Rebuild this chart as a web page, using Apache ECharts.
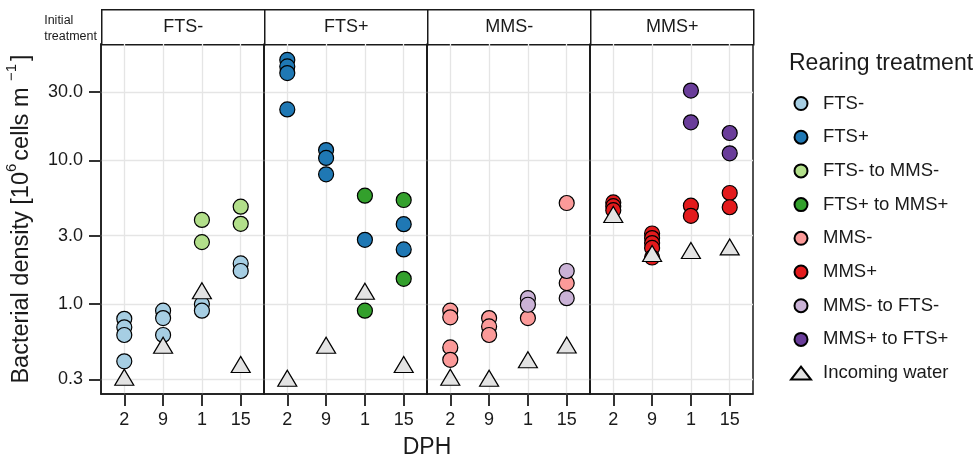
<!DOCTYPE html>
<html style="height: 100%">
   <head>
       <meta charset="utf-8">
   </head>
   <body style="height: 100%; margin: 0; background: #fff">
       <div id="container" style="width: 979px; height: 458px"></div>
       <script type="text/javascript" src="https://cdn.jsdelivr.net/npm/echarts@6/dist/echarts.min.js"></script>
       <script type="text/javascript">
            // facets and axis labels
            var panelNames = ['FTS-', 'FTS+', 'MMS-', 'MMS+'];
            var dphTicks = ['2', '9', '1', '15'];
            var yTicks = [0.3, 1, 3, 10, 30];

            // rows are [panel index, DPH index, density]
            var ftsMinus = [
                [0, 0, 0.79], [0, 0, 0.69], [0, 0, 0.61], [0, 0, 0.40],
                [0, 1, 0.90], [0, 1, 0.80], [0, 1, 0.61],
                [0, 2, 1.00], [0, 2, 0.90],
                [0, 3, 1.92], [0, 3, 1.70]
            ];
            var ftsPlus = [
                [1, 0, 50.0], [1, 0, 45.0], [1, 0, 40.5], [1, 0, 22.6],
                [1, 1, 11.8], [1, 1, 10.4], [1, 1, 8.0],
                [1, 2, 2.80],
                [1, 3, 3.60], [1, 3, 2.40]
            ];
            var ftsMinusToMmsMinus = [
                [0, 2, 3.85], [0, 2, 2.70],
                [0, 3, 4.76], [0, 3, 3.62]
            ];
            var ftsPlusToMmsPlus = [
                [1, 2, 5.68], [1, 2, 0.90],
                [1, 3, 5.30], [1, 3, 1.50]
            ];
            var mmsMinus = [
                [2, 0, 0.90], [2, 0, 0.81], [2, 0, 0.50], [2, 0, 0.41],
                [2, 1, 0.80], [2, 1, 0.70], [2, 1, 0.61],
                [2, 2, 0.80],
                [2, 3, 5.05], [2, 3, 1.40]
            ];
            var mmsPlus = [
                [3, 0, 5.10], [3, 0, 4.80], [3, 0, 4.50],
                [3, 1, 3.10], [3, 1, 2.88], [3, 1, 2.66], [3, 1, 2.46], [3, 1, 2.11],
                [3, 2, 4.84], [3, 2, 4.11],
                [3, 3, 5.93], [3, 3, 4.72]
            ];
            var mmsMinusToFtsMinus = [
                [2, 2, 1.10], [2, 2, 0.99],
                [2, 3, 1.70], [2, 3, 1.10]
            ];
            var mmsPlusToFtsPlus = [
                [3, 2, 30.6], [3, 2, 18.4],
                [3, 3, 15.5], [3, 3, 11.2]
            ];
            var incomingWater = [
                [0, 0, 0.31], [0, 1, 0.517], [0, 2, 1.24], [0, 3, 0.38],
                [1, 0, 0.305], [1, 1, 0.517], [1, 2, 1.23], [1, 3, 0.38],
                [2, 0, 0.31], [2, 1, 0.305], [2, 2, 0.41], [2, 3, 0.52],
                [3, 0, 4.20], [3, 1, 2.25], [3, 2, 2.36], [3, 3, 2.50]
            ];

            var treatments = [
                {name: 'FTS-', color: '#A6CEE3', rows: ftsMinus},
                {name: 'FTS+', color: '#1F78B4', rows: ftsPlus},
                {name: 'FTS- to MMS-', color: '#B2DF8A', rows: ftsMinusToMmsMinus},
                {name: 'FTS+ to MMS+', color: '#33A02C', rows: ftsPlusToMmsPlus},
                {name: 'MMS-', color: '#FB9A99', rows: mmsMinus},
                {name: 'MMS+', color: '#E31A1C', rows: mmsPlus},
                {name: 'MMS- to FTS-', color: '#CAB2D6', rows: mmsMinusToFtsMinus},
                {name: 'MMS+ to FTS+', color: '#6A3D9A', rows: mmsPlusToFtsPlus},
                {name: 'Incoming water', color: '#E3E3E3', rows: incomingWater, triangle: true}
            ];

            var left0 = 101, panelW = 163, top0 = 44, panelH = 350;
            var textColor = '#1a1a1a';
            var tickStyle = {color: '#333333', width: 2};

            var grids = [], xAxes = [], yAxes = [], graphics = [];
            panelNames.forEach(function (p, i) {
                grids.push({
                    left: left0 + i * panelW, top: top0, width: panelW, height: panelH,
                    show: true, borderColor: '#1a1a1a', borderWidth: 1.5
                });
                xAxes.push({
                    gridIndex: i, type: 'value', min: -0.6, max: 3.6,
                    axisLine: {show: true, onZero: false, lineStyle: {color: '#1a1a1a', width: 1.5}},
                    axisTick: {show: true, customValues: [0, 1, 2, 3], length: 12, lineStyle: tickStyle},
                    axisLabel: {
                        customValues: [0, 1, 2, 3], margin: 17, fontSize: 18, color: textColor,
                        formatter: function (v) { return dphTicks[Math.round(v)]; }
                    },
                    splitLine: {show: true, lineStyle: {color: '#e5e5e5', width: 1.3}}
                });
                yAxes.push({
                    gridIndex: i, type: 'log', logBase: 10, min: 0.237, max: 64.5,
                    name: i === 0 ? '{a|Bacterial density [10}{s|6}{a|cells m }{s|\u22121}{a|]}' : '',
                    nameLocation: 'middle', nameGap: 67,
                    nameTextStyle: {
                        rich: {
                            a: {fontSize: 23.5, color: textColor, lineHeight: 30, verticalAlign: 'bottom'},
                            s: {fontSize: 15, color: textColor, lineHeight: 30, verticalAlign: 'top', padding: [0, 3, 0, 0]}
                        }
                    },
                    axisLine: {show: true, onZero: false, lineStyle: {color: '#1a1a1a', width: 1.5}},
                    axisTick: {show: i === 0, customValues: yTicks, length: 12, lineStyle: tickStyle},
                    axisLabel: {
                        show: i === 0, customValues: yTicks, margin: 18, fontSize: 18, color: textColor,
                        formatter: function (v) { return (+v).toFixed(1); }
                    },
                    splitLine: {show: true, lineStyle: {color: '#e5e5e5', width: 1.3}}
                });
                // facet strip
                graphics.push({
                    type: 'group', left: left0 + i * panelW, top: 9,
                    children: [
                        {type: 'rect', shape: {x: 0, y: 0, width: panelW, height: 35},
                         style: {fill: '#fff', stroke: '#1a1a1a', lineWidth: 1.5}},
                        {type: 'text', x: panelW / 2, y: 17.5,
                         style: {text: p, fontSize: 18, fill: textColor, align: 'center', verticalAlign: 'middle'}}
                    ]
                });
            });

            graphics.push({
                type: 'text', right: 979 - 97, top: 13,
                style: {text: 'Initial\ntreatment', fontSize: 12.5, lineHeight: 15.5, fill: textColor, align: 'right'}
            });

            var series = [];
            treatments.forEach(function (t) {
                panelNames.forEach(function (p, i) {
                    var pts = t.rows.filter(function (r) { return r[0] === i; })
                                    .map(function (r) { return [r[1], r[2]]; });
                    if (!pts.length) return;
                    series.push({
                        name: t.name, type: 'scatter', xAxisIndex: i, yAxisIndex: i,
                        symbol: t.triangle ? 'triangle' : 'circle',
                        symbolSize: t.triangle ? [19, 16] : 15,
                        z: t.triangle ? 4 : 3,
                        itemStyle: {color: t.color, borderColor: '#000', borderWidth: 1.2, opacity: 1},
                        emphasis: {disabled: true},
                        data: pts
                    });
                });
            });

            var dom = document.getElementById('container');
            var myChart = echarts.init(dom, null, {renderer: 'canvas'});
            var option = {
                animation: false,
                title: [
                    {text: 'DPH', left: 422, top: 431, textAlign: 'center',
                     textStyle: {fontSize: 23, fontWeight: 'normal', color: textColor}},
                    {text: 'Rearing treatment', left: 784, top: 47,
                     textStyle: {fontSize: 23, fontWeight: 'normal', color: textColor}}
                ],
                legend: {
                    orient: 'vertical', left: 785, top: 89,
                    itemWidth: 20, itemHeight: 13, itemGap: 14.7,
                    textStyle: {fontSize: 18.5, color: textColor, padding: [0, 0, 0, 7]},
                    data: treatments.map(function (t) { return t.name; })
                },
                grid: grids,
                xAxis: xAxes,
                yAxis: yAxes,
                graphic: graphics,
                series: series
            };
            myChart.setOption(option);
       </script>
   </body>
</html>
